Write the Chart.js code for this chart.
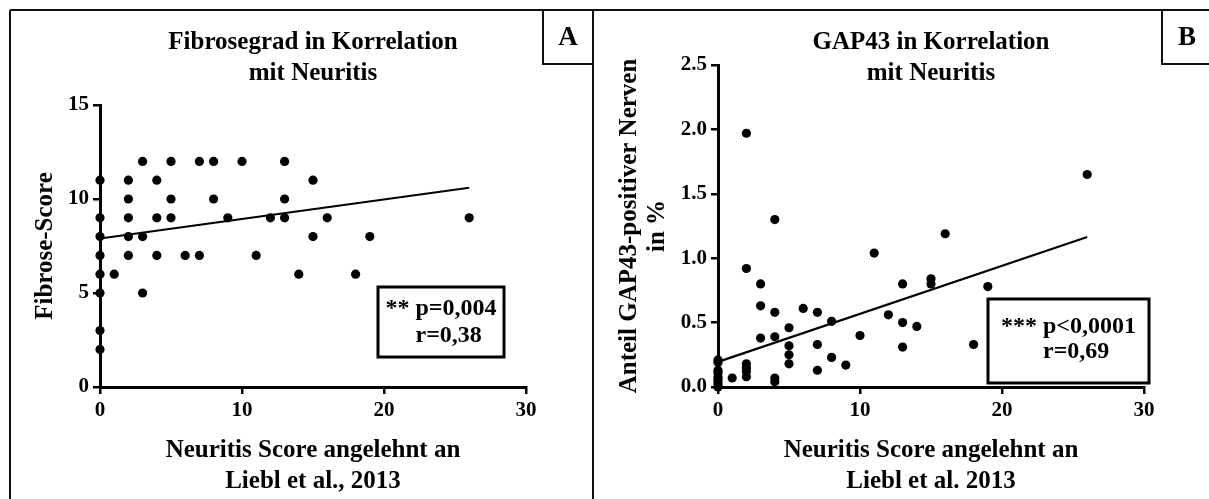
<!DOCTYPE html>
<html>
<head>
<meta charset="utf-8">
<script src="https://cdn.jsdelivr.net/npm/chart.js@4"></script>
<style>
  html, body { margin: 0; padding: 0; background: #fff; }
  #wrap { position: relative; width: 1209px; height: 499px; overflow: hidden; background: #fff; }
  .panel { position: absolute; top: 0; }
  #panelA { left: 0; }
  #panelB { left: 596px; }
</style>
</head>
<body>
<div id="wrap">
  <div class="panel" id="panelA"><canvas id="chartA" width="596" height="499"></canvas></div>
  <div class="panel" id="panelB"><canvas id="chartB" width="613" height="499"></canvas></div>
</div>
<script>
// Panel A: Fibrose-Score gegen Neuritis Score
const neuritisA = [0, 0, 0, 0, 0, 0, 0, 0, 1, 2, 2, 2, 2, 2, 3, 3, 3, 4, 4, 4, 5, 5, 5, 6, 7, 7, 8, 8, 9, 10, 11, 12, 13, 13, 13, 14, 15, 15, 16, 18, 19, 26];
const fibroseA = [11, 9, 8, 7, 6, 5, 3, 2, 6, 11, 10, 9, 8, 7, 12, 8, 5, 11, 9, 7, 12, 10, 9, 7, 12, 7, 12, 10, 9, 12, 7, 9, 12, 10, 9, 6, 11, 8, 9, 6, 8, 9];
const trendAx = [0, 26];
const trendAy = [7.9, 10.6];

// Panel B: GAP43-positive Nerven gegen Neuritis Score
const neuritisB = [0, 0, 0, 0, 0, 0, 0, 0, 0, 1, 2, 2, 2, 2, 2, 2, 3, 3, 3, 4, 4, 4, 4, 4, 5, 5, 5, 5, 6, 7, 7, 7, 8, 8, 9, 10, 11, 12, 13, 13, 13, 14, 15, 15, 16, 18, 19, 26];
const gap43B = [0.21, 0.19, 0.13, 0.11, 0.08, 0.06, 0.04, 0.02, 0.0, 0.07, 1.97, 0.92, 0.18, 0.15, 0.12, 0.08, 0.80, 0.63, 0.38, 1.30, 0.58, 0.39, 0.07, 0.04, 0.46, 0.32, 0.25, 0.18, 0.61, 0.58, 0.33, 0.13, 0.51, 0.23, 0.17, 0.40, 1.04, 0.56, 0.80, 0.50, 0.31, 0.47, 0.84, 0.80, 1.19, 0.33, 0.78, 1.65];
const trendBx = [0, 26];
const trendBy = [0.195, 1.165];

// Texte
const titleA = ["Fibrosegrad in Korrelation", "mit Neuritis"];
const titleB = ["GAP43 in Korrelation", "mit Neuritis"];
const yTitleA = "Fibrose-Score";
const yTitleB = ["Anteil GAP43-positiver Nerven", "in %"];
const xTitleA = ["Neuritis Score angelehnt an", "Liebl et al., 2013"];
const xTitleB = ["Neuritis Score angelehnt an", "Liebl et al. 2013"];
const statA = ["** p=0,004", "r=0,38"];
const statB = ["*** p<0,0001", "r=0,69"];

const SERIF = '"Liberation Serif", "Times New Roman", serif';
Chart.defaults.font.family = SERIF;
Chart.defaults.color = "#000";

// Rahmen, Buchstabe, Titel und Statistik-Kasten
const panelDecor = {
  id: "panelDecor",
  afterDraw(chart, args, o) {
    const ctx = chart.ctx;
    const area = chart.chartArea;
    ctx.save();
    ctx.strokeStyle = "#111";
    ctx.lineWidth = 2;
    ctx.beginPath();
    ctx.moveTo(o.frameLeft, o.frameTop);
    ctx.lineTo(chart.width, o.frameTop);
    o.frameV.forEach(x => {
      ctx.moveTo(x, o.frameTop);
      ctx.lineTo(x, chart.height);
    });
    ctx.stroke();

    // Buchstabe
    const lb = o.letterBox;
    ctx.strokeRect(lb.x, lb.y, lb.w, lb.h);
    ctx.fillStyle = "#000";
    ctx.textAlign = "center";
    ctx.textBaseline = "middle";
    ctx.font = "bold 27px " + SERIF;
    ctx.fillText(o.letter, lb.x + lb.w / 2, lb.y + lb.h / 2 + 1);

    // Titel
    ctx.font = "bold 25px " + SERIF;
    const cx = (area.left + area.right) / 2 + o.titleShift;
    o.title.forEach((t, i) => ctx.fillText(t, cx, o.titleY + i * 31));

    // Statistik
    const sb = o.statBox;
    ctx.font = "bold 24px " + SERIF;
    ctx.lineWidth = 3;
    ctx.strokeStyle = "#000";
    ctx.strokeRect(sb.x, sb.y, sb.w, sb.h);
    const sx = sb.x + sb.w / 2;
    const w1 = ctx.measureText(o.stat[0]).width;
    const pre = ctx.measureText(o.stat[0].split(" ")[0] + " ").width;
    ctx.fillText(o.stat[0], sx, o.statY[0]);
    ctx.textAlign = "left";
    ctx.fillText(o.stat[1], sx - w1 / 2 + pre, o.statY[1]);
    ctx.restore();
  }
};

function makeChart(id, cfg) {
  const pts = cfg.xs.map((x, i) => ({ x: x, y: cfg.ys[i] }));
  const trend = cfg.tx.map((x, i) => ({ x: x, y: cfg.ty[i] }));
  const tickFont = { size: 21, weight: "bold" };
  const gridOpts = { display: true, drawOnChartArea: false, drawTicks: true, tickLength: 7, lineWidth: 2.5, color: "#000" };
  return new Chart(document.getElementById(id), {
    type: "scatter",
    data: {
      datasets: [
        { data: pts, pointRadius: 4.6, pointHoverRadius: 4.6, backgroundColor: "#000", borderColor: "#000", borderWidth: 0, clip: false },
        { type: "line", data: trend, borderColor: "#000", borderWidth: 2.2, pointRadius: 0, fill: false, tension: 0, clip: false }
      ]
    },
    options: {
      responsive: false,
      animation: false,
      layout: { padding: cfg.padding },
      plugins: {
        legend: { display: false },
        tooltip: { enabled: false },
        panelDecor: cfg.decor
      },
      scales: {
        x: {
          type: "linear",
          min: 0, max: 30,
          ticks: { stepSize: 10, font: tickFont, padding: 4, color: "#000" },
          grid: gridOpts,
          border: { display: true, color: "#000", width: 3 },
          title: { display: true, text: cfg.xTitle, font: { size: 25, weight: "bold", lineHeight: 1.24 }, padding: { top: 0, bottom: 1.5 }, color: "#000" },
          afterFit: s => { s.height = cfg.xHeight; }
        },
        y: {
          type: "linear",
          min: 0, max: cfg.yMax,
          ticks: { stepSize: cfg.yStep, font: tickFont, padding: 4, color: "#000", callback: cfg.yFmt },
          grid: gridOpts,
          border: { display: true, color: "#000", width: 3 },
          title: { display: true, text: cfg.yTitle, font: { size: 25, weight: "bold", lineHeight: cfg.yTitleLH }, padding: 0, color: "#000" },
          afterFit: s => { s.width = cfg.yWidth; }
        }
      }
    },
    plugins: [panelDecor]
  });
}

makeChart("chartA", {
  xs: neuritisA, ys: fibroseA, tx: trendAx, ty: trendAy,
  yMax: 15, yStep: 5, yFmt: v => v,
  xTitle: xTitleA, yTitle: yTitleA, yTitleLH: 1.24,
  padding: { left: 30, top: 105, right: 70, bottom: 0 },
  yWidth: 70, xHeight: 112,
  decor: {
    frameTop: 10, frameLeft: 10, frameV: [10, 593],
    letter: "A", letterBox: { x: 543, y: 10, w: 50, h: 54 },
    title: titleA, titleY: 43, titleShift: 0,
    stat: statA, statBox: { x: 378, y: 287, w: 126, h: 70 }, statY: [309, 336]
  }
});

makeChart("chartB", {
  xs: neuritisB, ys: gap43B, tx: trendBx, ty: trendBy,
  yMax: 2.5, yStep: 0.5, yFmt: v => Number(v).toFixed(1),
  xTitle: xTitleB, yTitle: yTitleB, yTitleLH: 1.12,
  padding: { left: 20, top: 65, right: 65, bottom: 0 },
  yWidth: 102, xHeight: 112,
  decor: {
    frameTop: 10, frameLeft: 0, frameV: [],
    letter: "B", letterBox: { x: 566, y: 10, w: 50, h: 54 },
    title: titleB, titleY: 43, titleShift: 0,
    stat: statB, statBox: { x: 392, y: 299, w: 161, h: 84 }, statY: [327, 352]
  }
});
</script>
</body>
</html>
